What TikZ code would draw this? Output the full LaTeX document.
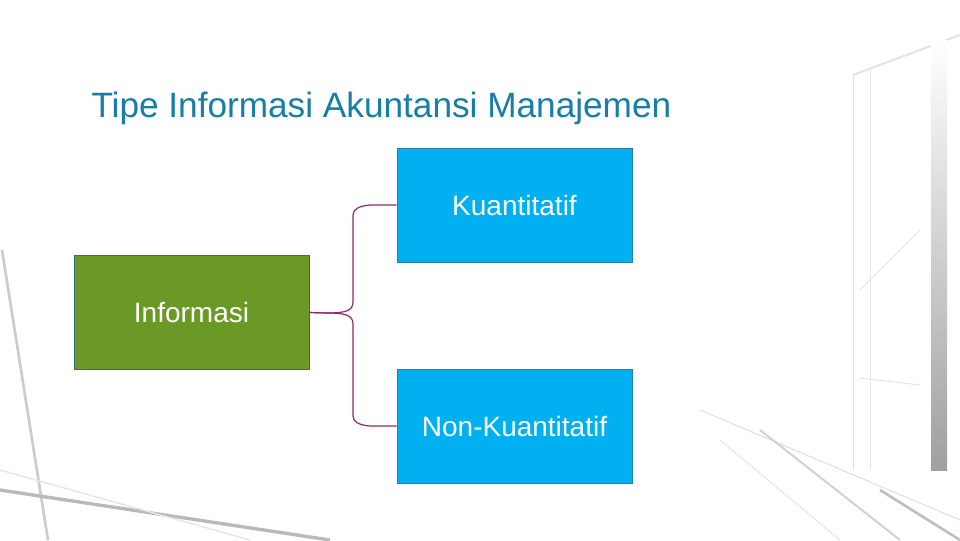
\documentclass[tikz,border=0pt]{standalone}
\usepackage{fontspec}
\setmainfont{Liberation Sans}

\definecolor{titleblue}{RGB}{23,126,168}
\definecolor{kuanblue}{RGB}{0,176,240}
\definecolor{kuanedge}{RGB}{40,128,168}
\definecolor{infogreen}{RGB}{107,153,38}
\definecolor{infoedge}{RGB}{44,112,128}
\definecolor{bracecol}{RGB}{150,40,105}

\tikzset{every picture/.style={line width=0.75pt}}
\tikzset{
  tipebox/.style={draw=kuanedge, fill=kuanblue, text=white, minimum width=176.25pt, minimum height=85.5pt, font=\fontsize{21}{25}\selectfont},
  infobox/.style={tipebox, draw=infoedge, fill=infogreen},
  brace/.style={draw=bracecol, line width=0.9pt}
}

\begin{document}
\begin{tikzpicture}[x=0.75pt,y=0.75pt,yscale=-1,xscale=1]
\useasboundingbox (0,0) rectangle (960,540);
\fill[white] (0,0) rectangle (960,540);

%Background photo, faint window frames
\draw[gray!40, line width=2pt] (2,250) -- (48,540);
\draw[gray!55, line width=2.5pt] (0,490) -- (330,540);
\draw[gray!20, line width=1pt] (0,470) -- (250,540);
\draw[gray!25] (853,75) -- (853,470);
\draw[gray!18] (870,68) -- (870,470);
\draw[gray!22, line width=1.5pt] (853,75) -- (960,35);
\draw[gray!20] (860,290) -- (920,230);
\draw[gray!20] (860,378) -- (920,385);
\shade[top color=white, bottom color=gray!75] (931,40) rectangle (947,470);
\draw[gray!25] (700,410) -- (960,520);
\draw[gray!35, line width=1.5pt] (760,430) -- (900,540);
\draw[gray!20] (720,440) -- (840,540);
\draw[gray!50, line width=2pt] (880,490) -- (960,540);

% Title
\node[anchor=base west, inner sep=0pt, text=titleblue, font=\fontsize{26.4}{31}\selectfont] (title) at (91,117) {Tipe Informasi Akuntansi Manajemen};

% Boxes
\node[infobox] (info) at (191.5,312.5) {Informasi};
\node[tipebox] (kuan) at (514.5,205) {Kuantitatif};
\node[tipebox] (nonkuan) at (514.5,426) {Non-Kuantitatif};

% Brace connectors
\draw[brace] (info.east) -- (327,313) .. controls (345,313) and (353,311) .. (353,302) -- (353,215) .. controls (353,209) and (359,206) .. (370,205) -- (kuan.west);
\draw[brace] (info.east) -- (327,313) .. controls (345,313) and (353,315) .. (353,324) -- (353,416) .. controls (353,422) and (359,425) .. (370,426) -- (nonkuan.west);

\end{tikzpicture}
\end{document}
